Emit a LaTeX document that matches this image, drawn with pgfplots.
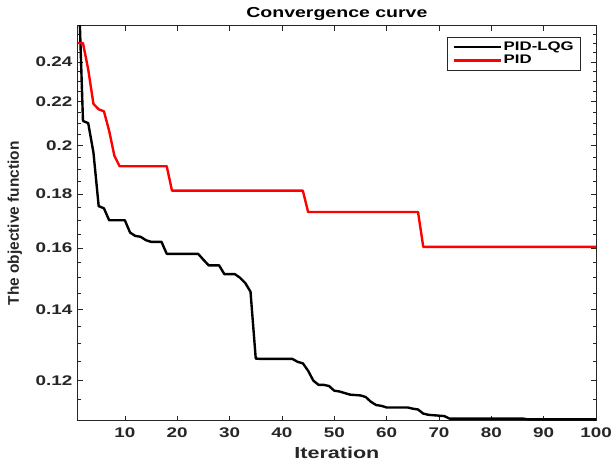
\documentclass[border=0pt]{standalone}
\usepackage{fontspec}
\setmainfont{Liberation Sans}
\newfontfamily\wide{Liberation Sans}[FakeStretch=1.35]
\usepackage{pgfplots}
\pgfplotsset{compat=1.18}
\definecolor{AxGray}{HTML}{262626}

\begin{document}
\begin{tikzpicture}
\begin{axis}[
  scale only axis, width=520pt, height=396pt,
  ymode=log, log basis y=10,
  xmin=1, xmax=100, ymin=0.1099, ymax=0.2595,
  xtick={10,20,30,40,50,60,70,80,90,100},
  xticklabels={10,20,30,40,50,60,70,80,90,100},
  ytick={0.12,0.14,0.16,0.18,0.2,0.22,0.24},
  yticklabels={0.12,0.14,0.16,0.18,0.2,0.22,0.24},
  minor ytick={0.11,0.115,0.125,0.13,0.135,0.145,0.15,0.155,0.165,0.17,0.175,0.185,0.19,0.195,0.205,0.21,0.215,0.225,0.23,0.235,0.245,0.25,0.255},
  tick align=inside, major tick length=5pt, minor tick length=3pt,
  tick style={AxGray, line width=0.6pt},
  axis line style={AxGray, line width=0.9pt},
  tick label style={font=\wide\bfseries\fontsize{14}{14}\selectfont, text=AxGray},
  xticklabel style={yshift=-4pt},
  yticklabel style={xshift=-2pt},
  title={Convergence curve},
  title style={font=\wide\bfseries\fontsize{14.5}{14.5}\selectfont, at={(axis description cs:0.5,1)}, anchor=center, yshift=6pt},
  xlabel={Iteration},
  xlabel style={font=\wide\bfseries\fontsize{16}{16}\selectfont, text=AxGray, at={(axis description cs:0.5,0)}, anchor=center, yshift=-32pt},
  ylabel={The objective function},
  ylabel style={font=\bfseries\fontsize{15.5}{15.5}\selectfont, text=AxGray, at={(axis description cs:0,0.5)}, anchor=center, yshift=63pt},
  legend style={at={(rel axis cs:1,1)}, anchor=north east, xshift=-15pt, yshift=-11pt,
    draw=AxGray, line width=0.6pt, font=\wide\bfseries\fontsize{12.5}{12.5}\selectfont,
    inner xsep=5pt, inner ysep=3pt, row sep=-1pt},
  legend cell align=left,
  legend image code/.code={\draw[#1] (0pt,0pt) -- (47pt,0pt);},
]
\addplot[black, line width=2.4pt, line join=round] coordinates {
  (1,0.300) (2,0.211) (3,0.210) (4,0.197) (5,0.1753) (6,0.1745) (7,0.170) (8,0.170)
  (9,0.170) (10,0.170) (11,0.1655) (12,0.1643) (13,0.1640) (14,0.1628) (15,0.1622)
  (16,0.1622) (17,0.1622) (18,0.158) (19,0.158) (20,0.158) (21,0.158) (22,0.158)
  (23,0.158) (24,0.158) (25,0.156) (26,0.1541) (27,0.1541) (28,0.1541) (29,0.1512)
  (30,0.1512) (31,0.1512) (32,0.1500) (33,0.1483) (34,0.1455) (35,0.1258) (36,0.1257)
  (37,0.1257) (38,0.1257) (39,0.1257) (40,0.1257) (41,0.1257) (42,0.1257) (43,0.1249)
  (44,0.1245) (45,0.1225) (46,0.1199) (47,0.1188) (48,0.1188) (49,0.1185) (50,0.1173)
  (51,0.1171) (52,0.1167) (53,0.1163) (54,0.1162) (55,0.1161) (56,0.1157) (57,0.1145)
  (58,0.1137) (59,0.1135) (60,0.1131) (61,0.1131) (62,0.1131) (63,0.1131) (64,0.1131)
  (65,0.1128) (66,0.1126) (67,0.1116) (68,0.1113) (69,0.1112) (70,0.1111) (71,0.1110)
  (72,0.1104) (80,0.1104) (86,0.1104) (87,0.1102) (100,0.1102)
};
\addlegendentry{PID-LQG}
\addplot[red, line width=2.4pt, line join=round] coordinates {
  (1,0.250) (2,0.250) (3,0.236) (4,0.219) (5,0.2164) (6,0.2155) (7,0.2065) (8,0.1956)
  (9,0.1912) (10,0.1912) (18,0.1912) (19,0.1813) (44,0.1813) (45,0.1731) (66,0.1731)
  (67,0.1604) (100,0.1604)
};
\addlegendentry{PID}
\coordinate (sw) at (rel axis cs:0,0);
\end{axis}
\pgfresetboundingbox
\useasboundingbox (sw) ++(-78pt,-44pt) rectangle ++(613pt,466pt);
\end{tikzpicture}
\end{document}
